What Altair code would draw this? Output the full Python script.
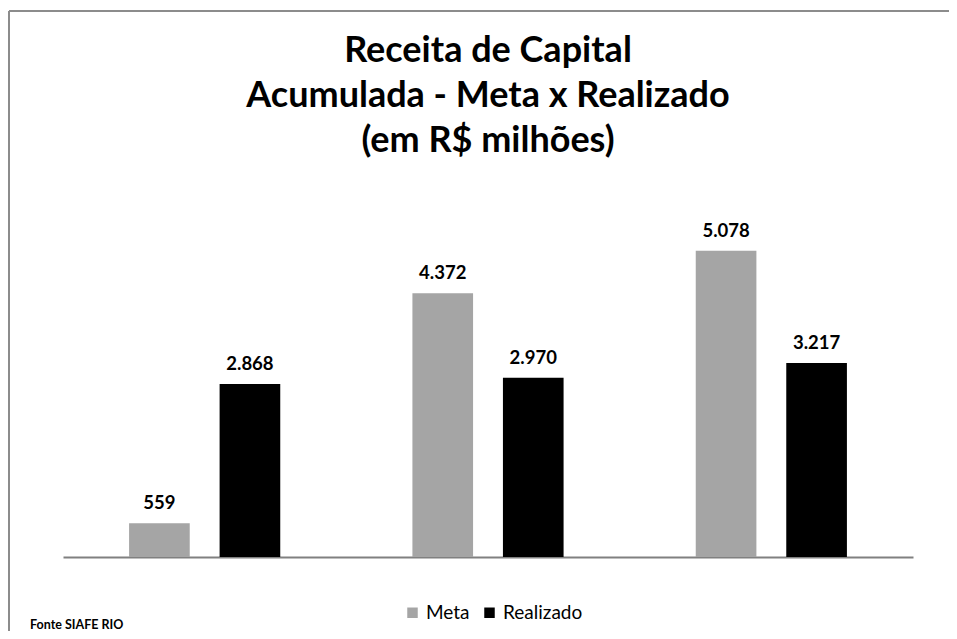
import altair as alt
import pandas as pd

categories = ["Período 1", "Período 2", "Período 3"]
meta = [559, 4372, 5078]
realizado = [2868, 2970, 3217]
series = ["Meta", "Realizado"]
labels_meta = ["559", "4.372", "5.078"]
labels_real = ["2.868", "2.970", "3.217"]
title_lines = ["Receita de Capital", "Acumulada - Meta x Realizado", "(em R$ milhões)"]
source_note = "Fonte SIAFE RIO"

rows = []
for i, c in enumerate(categories):
    rows.append({"cat": c, "serie": "Meta", "valor": meta[i], "rotulo": labels_meta[i]})
    rows.append({"cat": c, "serie": "Realizado", "valor": realizado[i], "rotulo": labels_real[i]})
df = pd.DataFrame(rows)

FONT = "Lato"

x_enc = alt.X("cat:N", sort=categories, title=None,
              scale=alt.Scale(paddingInner=0, paddingOuter=0),
              axis=alt.Axis(labels=False, ticks=False, domainColor="#808080",
                            domainWidth=2, grid=False))
xo_enc = alt.XOffset("serie:N", sort=series,
                     scale=alt.Scale(paddingInner=0.33, paddingOuter=0.73))
y_enc = alt.Y("valor:Q", scale=alt.Scale(domain=[0, 6000]), axis=None)

bars = alt.Chart(df).mark_bar().encode(
    x=x_enc, xOffset=xo_enc, y=y_enc,
    color=alt.Color("serie:N", sort=series,
                    scale=alt.Scale(domain=series, range=["#A5A5A5", "#000000"]),
                    legend=alt.Legend(title=None, orient="none", legendX=340, legendY=408,
                                      direction="horizontal", symbolType="square",
                                      symbolSize=110, symbolStrokeWidth=0,
                                      labelFontSize=19, labelFont=FONT,
                                      labelColor="#000000", columnPadding=10,
                                      labelOffset=4)),
)

text = alt.Chart(df).mark_text(baseline="bottom", dy=-10, font=FONT, fontSize=18.5,
                               fontWeight="bold", color="#000000").encode(
    x=x_enc, xOffset=xo_enc, y=y_enc, text="rotulo:N"
)

top_rule = alt.Chart(alt.Data(values=[{"a": 1}])).mark_rule(color="#8C8C8C", strokeWidth=2).encode(
    x=alt.value(-54), x2=alt.value(890), y=alt.value(-184)
)
left_rule = alt.Chart(alt.Data(values=[{"a": 1}])).mark_rule(color="#8C8C8C", strokeWidth=2).encode(
    x=alt.value(-54), y=alt.value(-184), y2=alt.value(440)
)
title = alt.Chart(alt.Data(values=[{"t": title_lines}])).mark_text(
    align="center", baseline="middle", font=FONT, fontSize=36, fontWeight="bold",
    color="#000000", lineHeight=45
).encode(x=alt.value(425), y=alt.value(-144), text="t:N")

fonte = alt.Chart(alt.Data(values=[{"t": source_note}])).mark_text(
    align="left", baseline="middle", font=FONT, fontSize=12.5, fontWeight="bold", color="#000000"
).encode(x=alt.value(-33), y=alt.value(430), text="t:N")

chart = alt.layer(top_rule, left_rule, title, bars, text, fonte).properties(
    width=850, height=362,
    padding={"left": 55, "top": 187, "right": 36, "bottom": 74},
    autosize=alt.AutoSizeParams(type="none"),
    background="white",
).configure_view(stroke=None)

chart.save("out.html", embed_options={"renderer": "svg", "actions": False})
